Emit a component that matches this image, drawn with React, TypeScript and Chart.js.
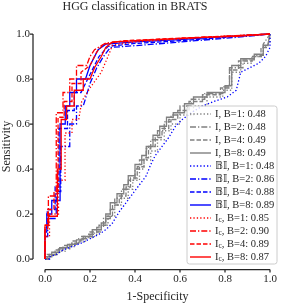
import React, { useEffect, useRef } from "react";
import { Chart, registerables } from "chart.js";

Chart.register(...registerables);

type Pt = [number, number];

// ---- data (fpr, tpr) ----
const title = "HGG classification in BRATS";
const xLabel = "1-Specificity";
const yLabel = "Sensitivity";
const tickValues = [0, 0.2, 0.4, 0.6, 0.8, 1.0];

const labels = [
  "I, B=1: 0.48",
  "I, B=2: 0.48",
  "I, B=4: 0.49",
  "I, B=8: 0.49",
  "𝔹𝕀, B=1: 0.48",
  "𝔹𝕀, B=2: 0.86",
  "𝔹𝕀, B=4: 0.88",
  "𝔹𝕀, B=8: 0.89",
  "I_c, B=1: 0.85",
  "I_c, B=2: 0.90",
  "I_c, B=4: 0.89",
  "I_c, B=8: 0.87",
];

const iB1: Pt[] = [[0,0],[0.015,0],[0.015,0.015],[0.045,0.015],[0.045,0.035],[0.09,0.035],[0.09,0.055],[0.13,0.055],[0.13,0.075],[0.18,0.075],[0.18,0.095],[0.22,0.095],[0.22,0.12],[0.25,0.12],[0.25,0.15],[0.28,0.15],[0.28,0.19],[0.31,0.19],[0.31,0.24],[0.34,0.24],[0.34,0.27],[0.37,0.27],[0.37,0.31],[0.39,0.31],[0.39,0.35],[0.42,0.35],[0.42,0.4],[0.44,0.4],[0.44,0.44],[0.47,0.44],[0.47,0.48],[0.5,0.48],[0.5,0.53],[0.53,0.53],[0.53,0.57],[0.56,0.57],[0.56,0.6],[0.6,0.6],[0.6,0.64],[0.66,0.64],[0.66,0.68],[0.72,0.68],[0.72,0.72],[0.79,0.72],[0.79,0.75],[0.83,0.75],[0.83,0.83],[0.87,0.83],[0.87,0.87],[0.92,0.87],[0.92,0.9],[0.97,0.9],[0.97,0.94],[1,0.96],[1,1]];
const iB2: Pt[] = [[0,0],[0.02,0],[0.02,0.02],[0.06,0.02],[0.06,0.045],[0.11,0.045],[0.11,0.07],[0.15,0.07],[0.15,0.09],[0.19,0.09],[0.19,0.11],[0.23,0.11],[0.23,0.14],[0.26,0.14],[0.26,0.18],[0.29,0.18],[0.29,0.22],[0.31,0.22],[0.31,0.27],[0.34,0.27],[0.34,0.31],[0.37,0.31],[0.37,0.35],[0.4,0.35],[0.4,0.4],[0.42,0.4],[0.42,0.44],[0.45,0.44],[0.45,0.49],[0.47,0.49],[0.47,0.53],[0.5,0.53],[0.5,0.57],[0.53,0.57],[0.53,0.61],[0.56,0.61],[0.56,0.64],[0.6,0.64],[0.6,0.68],[0.65,0.68],[0.65,0.71],[0.71,0.71],[0.71,0.735],[0.79,0.735],[0.79,0.765],[0.82,0.765],[0.82,0.85],[0.88,0.85],[0.88,0.885],[0.93,0.885],[0.93,0.905],[0.97,0.905],[0.97,0.955],[1,1]];
const iB4: Pt[] = [[0,0],[0.01,0],[0.01,0.02],[0.05,0.02],[0.05,0.04],[0.08,0.04],[0.08,0.06],[0.12,0.06],[0.12,0.08],[0.16,0.08],[0.16,0.1],[0.2,0.1],[0.2,0.12],[0.24,0.12],[0.24,0.15],[0.27,0.15],[0.27,0.19],[0.3,0.19],[0.3,0.24],[0.33,0.24],[0.33,0.28],[0.36,0.28],[0.36,0.32],[0.38,0.32],[0.38,0.36],[0.41,0.36],[0.41,0.41],[0.44,0.41],[0.44,0.45],[0.46,0.45],[0.46,0.5],[0.49,0.5],[0.49,0.54],[0.52,0.54],[0.52,0.58],[0.55,0.58],[0.55,0.62],[0.59,0.62],[0.59,0.66],[0.64,0.66],[0.64,0.7],[0.7,0.7],[0.7,0.73],[0.78,0.73],[0.78,0.76],[0.82,0.76],[0.82,0.84],[0.86,0.84],[0.86,0.88],[0.92,0.88],[0.92,0.9],[0.96,0.9],[0.96,0.94],[0.99,0.94],[1,1]];
const iB8: Pt[] = [[0,0],[0,0.01],[0.03,0.01],[0.03,0.03],[0.065,0.03],[0.065,0.05],[0.1,0.05],[0.1,0.065],[0.14,0.065],[0.14,0.085],[0.17,0.085],[0.17,0.1],[0.21,0.1],[0.21,0.13],[0.25,0.13],[0.25,0.16],[0.27,0.16],[0.27,0.2],[0.29,0.2],[0.29,0.25],[0.32,0.25],[0.32,0.29],[0.35,0.29],[0.35,0.33],[0.37,0.33],[0.37,0.37],[0.4,0.37],[0.4,0.42],[0.43,0.42],[0.43,0.46],[0.45,0.46],[0.45,0.5],[0.48,0.5],[0.48,0.55],[0.51,0.55],[0.51,0.59],[0.54,0.59],[0.54,0.63],[0.57,0.63],[0.57,0.65],[0.62,0.65],[0.62,0.69],[0.66,0.69],[0.66,0.72],[0.72,0.72],[0.72,0.74],[0.8,0.74],[0.8,0.77],[0.83,0.77],[0.83,0.86],[0.87,0.86],[0.87,0.89],[0.93,0.89],[0.93,0.91],[0.97,0.91],[0.97,0.95],[0.99,0.95],[1,1]];

const biB1: Pt[] = [[0,0],[0.02,0],[0.02,0.01],[0.05,0.02],[0.08,0.04],[0.12,0.055],[0.16,0.07],[0.2,0.09],[0.24,0.11],[0.27,0.13],[0.3,0.16],[0.33,0.21],[0.36,0.25],[0.39,0.29],[0.42,0.33],[0.45,0.37],[0.47,0.42],[0.49,0.46],[0.52,0.5],[0.55,0.54],[0.58,0.59],[0.61,0.62],[0.65,0.65],[0.7,0.68],[0.75,0.7],[0.81,0.72],[0.85,0.75],[0.87,0.83],[0.91,0.85],[0.95,0.87],[0.98,0.9],[1,0.94],[1,1]];
const biB2: Pt[] = [[0,0],[0,0.1],[0.012,0.1],[0.012,0.18],[0.05,0.18],[0.05,0.3],[0.07,0.3],[0.07,0.5],[0.11,0.5],[0.11,0.6],[0.14,0.6],[0.14,0.68],[0.17,0.68],[0.2,0.78],[0.23,0.85],[0.26,0.9],[0.29,0.94],[0.45,0.952],[0.69,0.972],[0.85,0.985],[1,1]];
const biB4: Pt[] = [[0,0],[0,0.14],[0.01,0.14],[0.01,0.22],[0.045,0.22],[0.045,0.32],[0.062,0.32],[0.062,0.58],[0.1,0.58],[0.1,0.66],[0.13,0.66],[0.13,0.74],[0.16,0.74],[0.2,0.82],[0.24,0.9],[0.28,0.945],[0.4,0.958],[0.6,0.97],[0.8,0.985],[1,1]];
const biB8: Pt[] = [[0,0],[0,0.12],[0.008,0.12],[0.008,0.2],[0.03,0.2],[0.03,0.26],[0.067,0.26],[0.067,0.6],[0.09,0.6],[0.09,0.68],[0.11,0.68],[0.11,0.74],[0.14,0.74],[0.14,0.8],[0.18,0.8],[0.2,0.86],[0.236,0.93],[0.27,0.955],[0.4,0.965],[0.6,0.975],[0.8,0.988],[1,1]];

const icB1: Pt[] = [[0,0],[0,0.1],[0.02,0.1],[0.02,0.2],[0.06,0.2],[0.06,0.35],[0.089,0.35],[0.089,0.56],[0.12,0.56],[0.12,0.62],[0.15,0.62],[0.163,0.7],[0.2,0.76],[0.25,0.83],[0.28,0.9],[0.3,0.95],[0.4,0.965],[0.6,0.978],[0.8,0.99],[1,1]];
const icB2: Pt[] = [[0,0],[0,0.15],[0.015,0.15],[0.015,0.28],[0.05,0.28],[0.05,0.65],[0.08,0.65],[0.08,0.74],[0.11,0.74],[0.11,0.8],[0.14,0.8],[0.14,0.86],[0.185,0.86],[0.2,0.9],[0.22,0.93],[0.27,0.96],[0.4,0.97],[0.6,0.98],[0.8,0.99],[1,1]];
const icB4: Pt[] = [[0,0],[0,0.13],[0.012,0.13],[0.012,0.22],[0.04,0.22],[0.04,0.3],[0.058,0.3],[0.058,0.63],[0.085,0.63],[0.085,0.7],[0.12,0.7],[0.12,0.78],[0.16,0.78],[0.16,0.83],[0.2,0.86],[0.23,0.92],[0.26,0.955],[0.35,0.97],[0.6,0.982],[0.8,0.99],[1,1]];
const icB8: Pt[] = [[0,0],[0,0.15],[0.016,0.15],[0.016,0.19],[0.055,0.19],[0.055,0.4],[0.072,0.4],[0.072,0.62],[0.096,0.62],[0.096,0.68],[0.13,0.68],[0.13,0.75],[0.17,0.75],[0.17,0.8],[0.2,0.8],[0.22,0.85],[0.25,0.9],[0.27,0.94],[0.3,0.965],[0.5,0.975],[0.7,0.985],[0.85,0.99],[1,1]];

const seriesData: Pt[][] = [iB1, iB2, iB4, iB8, biB1, biB2, biB4, biB8, icB1, icB2, icB4, icB8];
const seriesColors = ["#808080","#808080","#808080","#808080","#0000ff","#0000ff","#0000ff","#0000ff","#ff0000","#ff0000","#ff0000","#ff0000"];

const DOT = [1.3, 2.1];
const DASHDOT = [6, 2, 1.3, 2];
const DASH = [4.5, 2];
const SOLID: number[] = [];
const seriesDashes = [DOT, DASHDOT, DASH, SOLID, DOT, DASHDOT, DASH, SOLID, DOT, DASHDOT, DASH, SOLID];

const FONT = "'Liberation Serif', 'Times New Roman', serif";
const INK = "#262626";

const spinesPlugin = {
  id: "spines",
  afterDraw(chart: any) {
    const ctx = chart.ctx;
    const xs = chart.scales.x;
    const ys = chart.scales.y;
    const leftX = 33;
    const bottomY = 269.5;
    ctx.save();
    ctx.strokeStyle = INK;
    ctx.lineWidth = 1.25;
    ctx.beginPath();
    ctx.moveTo(leftX, ys.getPixelForValue(0));
    ctx.lineTo(leftX, ys.getPixelForValue(1));
    ctx.moveTo(xs.getPixelForValue(0), bottomY);
    ctx.lineTo(xs.getPixelForValue(1), bottomY);
    for (const v of tickValues) {
      const py = ys.getPixelForValue(v);
      ctx.moveTo(leftX, py);
      ctx.lineTo(leftX - 3, py);
      const px = xs.getPixelForValue(v);
      ctx.moveTo(px, bottomY);
      ctx.lineTo(px, bottomY + 3);
    }
    ctx.stroke();
    ctx.restore();
  },
};

const legendPlugin = {
  id: "customLegend",
  afterDatasetsDraw(chart: any) {
    const ctx = chart.ctx;
    const bx = 187, by = 106, bw = 90, bh = 158, r = 2.5;
    ctx.save();
    ctx.beginPath();
    ctx.moveTo(bx + r, by);
    ctx.lineTo(bx + bw - r, by);
    ctx.quadraticCurveTo(bx + bw, by, bx + bw, by + r);
    ctx.lineTo(bx + bw, by + bh - r);
    ctx.quadraticCurveTo(bx + bw, by + bh, bx + bw - r, by + bh);
    ctx.lineTo(bx + r, by + bh);
    ctx.quadraticCurveTo(bx, by + bh, bx, by + bh - r);
    ctx.lineTo(bx, by + r);
    ctx.quadraticCurveTo(bx, by, bx + r, by);
    ctx.closePath();
    ctx.fillStyle = "rgba(255,255,255,0.8)";
    ctx.fill();
    ctx.strokeStyle = "#cccccc";
    ctx.lineWidth = 1;
    ctx.stroke();

    const fontSize = 10.5;
    chart.data.datasets.forEach((ds: any, i: number) => {
      const cy = 114 + 13 * i;
      ctx.beginPath();
      ctx.setLineDash(ds.borderDash || []);
      ctx.strokeStyle = ds.borderColor;
      ctx.lineWidth = 1.4;
      ctx.moveTo(190, cy);
      ctx.lineTo(211, cy);
      ctx.stroke();
      ctx.setLineDash([]);
      ctx.fillStyle = INK;
      ctx.textBaseline = "middle";
      ctx.textAlign = "left";
      ctx.font = `${fontSize}px ${FONT}`;
      const label: string = ds.label;
      let x = 215;
      if (label.includes("_c")) {
        const [head, tail] = label.split("_c");
        ctx.fillText(head, x, cy);
        x += ctx.measureText(head).width;
        ctx.font = `${fontSize * 0.7}px ${FONT}`;
        ctx.fillText("c", x, cy + 2.5);
        x += ctx.measureText("c").width;
        ctx.font = `${fontSize}px ${FONT}`;
        ctx.fillText(tail, x, cy);
      } else {
        ctx.fillText(label, x, cy);
      }
    });
    ctx.restore();
  },
};

export default function App() {
  const ref = useRef<HTMLCanvasElement | null>(null);
  useEffect(() => {
    if (!ref.current) return;
    const datasets = seriesData.map((pts, i) => ({
      label: labels[i],
      data: pts.map(([x, y]) => ({ x, y })),
      borderColor: seriesColors[i],
      backgroundColor: seriesColors[i],
      borderDash: seriesDashes[i],
      borderWidth: 1.3,
      pointRadius: 0,
      tension: 0,
      fill: false,
      clip: 6,
      order: seriesData.length - 1 - i,
    }));
    const chart = new Chart(ref.current, {
      type: "line",
      data: { datasets },
      options: {
        animation: false,
        responsive: false,
        devicePixelRatio: 1,
        layout: { padding: { left: 0, right: 12, top: 0, bottom: 0 } },
        plugins: {
          legend: { display: false },
          tooltip: { enabled: false },
          title: {
            display: true,
            text: title,
            color: INK,
            font: { family: FONT, size: 12, weight: "normal" },
            padding: { top: 0, bottom: 19.6 },
          },
        },
        scales: {
          x: {
            type: "linear",
            min: 0,
            max: 1,
            grid: { display: false, drawTicks: false },
            border: { display: false },
            afterFit: (s: any) => { s.height = 45; s.paddingLeft = 0; s.paddingRight = 0; },
            afterBuildTicks: (s: any) => { s.ticks = tickValues.map((v) => ({ value: v })); },
            ticks: {
              color: INK,
              font: { family: FONT, size: 11 },
              padding: 14,
              maxRotation: 0,
              callback: (v: any) => Number(v).toFixed(1),
            },
            title: {
              display: true,
              text: xLabel,
              color: INK,
              font: { family: FONT, size: 12 },
              padding: { top: 0, bottom: 0 },
            },
          },
          y: {
            type: "linear",
            min: 0,
            max: 1,
            grid: { display: false, drawTicks: false },
            border: { display: false },
            afterFit: (s: any) => { s.width = 45; s.paddingTop = 0; s.paddingBottom = 0; },
            afterBuildTicks: (s: any) => { s.ticks = tickValues.map((v) => ({ value: v })); },
            ticks: {
              color: INK,
              font: { family: FONT, size: 11 },
              padding: 15,
              callback: (v: any) => Number(v).toFixed(1),
            },
            title: {
              display: true,
              text: yLabel,
              color: INK,
              font: { family: FONT, size: 12 },
              padding: { top: 0, bottom: 0 },
            },
          },
        },
      },
      plugins: [spinesPlugin, legendPlugin],
    } as any);
    return () => chart.destroy();
  }, []);
  return (
    <div style={{ position: "fixed", left: 0, top: 0, width: 282, height: 304, background: "#fff" }}>
      <canvas ref={ref} width={282} height={304} style={{ display: "block", width: 282, height: 304 }} />
    </div>
  );
}
